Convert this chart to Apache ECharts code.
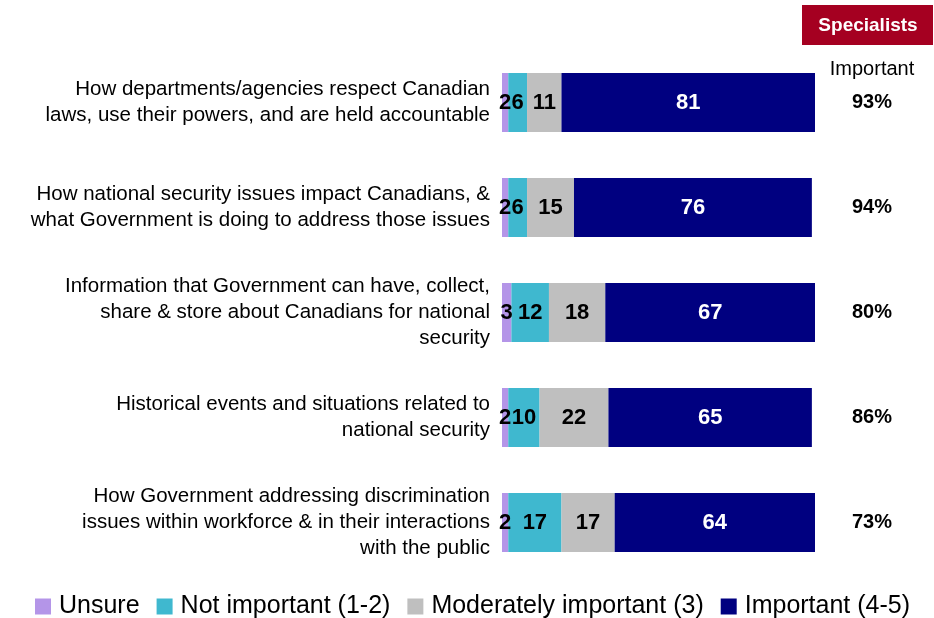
<!DOCTYPE html>
<html>
<head>
<meta charset="utf-8">
<script src="https://cdn.jsdelivr.net/npm/echarts@6/dist/echarts.min.js"></script>
<style>
  html, body { margin: 0; padding: 0; background: #fff; }
  #chart { width: 934px; height: 618px; }
</style>
</head>
<body>
<div id="chart"></div>
<script>
// Topics, top to bottom
const categories = [
  'How departments/agencies respect Canadian\nlaws, use their powers, and are held accountable',
  'How national security issues impact Canadians, &\nwhat Government is doing to address those issues',
  'Information that Government can have, collect,\nshare & store about Canadians for national\nsecurity',
  'Historical events and situations related to\nnational security',
  'How Government addressing discrimination\nissues within workforce & in their interactions\nwith the public'
];
const unsure = [2, 2, 3, 2, 2];
const notImportant = [6, 6, 12, 10, 17];
const moderatelyImportant = [11, 15, 18, 22, 17];
const important = [81, 76, 67, 65, 64];
const importantTotal = ['93%', '94%', '80%', '86%', '73%'];
const seriesNames = ['Unsure', 'Not important (1-2)', 'Moderately important (3)', 'Important (4-5)'];

const FONT = 'Liberation Sans, Arial, sans-serif';

function seg(name, data, color, labelColor) {
  return {
    name: name,
    type: 'bar',
    stack: 'total',
    data: data,
    barWidth: 59,
    itemStyle: { color: color },
    label: {
      show: true,
      position: 'inside',
      color: labelColor,
      fontFamily: FONT,
      fontWeight: 'bold',
      fontSize: 22
    },
    emphasis: { disabled: true }
  };
}

const chart = echarts.init(document.getElementById('chart'));
chart.setOption({
  animation: false,
  backgroundColor: '#fff',
  grid: { left: 502, right: 119, top: 50, bottom: 43 },
  xAxis: { type: 'value', min: 0, max: 100, show: false },
  yAxis: [
    {
      type: 'category',
      data: categories,
      inverse: true,
      axisLine: { show: false },
      axisTick: { show: false },
      axisLabel: {
        margin: 12,
        align: 'right',
        color: '#000',
        fontFamily: FONT,
        fontSize: 20.5,
        lineHeight: 26
      }
    },
    {
      type: 'category',
      data: importantTotal,
      inverse: true,
      position: 'right',
      axisLine: { show: false },
      axisTick: { show: false },
      axisLabel: {
        margin: 57,
        align: 'center',
        color: '#000',
        fontFamily: FONT,
        fontWeight: 'bold',
        fontSize: 20
      }
    }
  ],
  legend: {
    top: 589,
    left: 30,
    itemWidth: 16,
    itemHeight: 16,
    itemGap: 17,
    icon: 'rect',
    textStyle: { fontFamily: FONT, fontSize: 25, color: '#000', padding: [0, 0, 0, 3] },
    data: seriesNames
  },
  graphic: [
    {
      type: 'rect',
      shape: { x: 802, y: 5, width: 131, height: 40 },
      style: { fill: '#A50021' }
    },
    {
      type: 'text',
      x: 868, y: 26,
      style: {
        text: 'Specialists',
        fill: '#fff',
        font: 'bold 19px ' + FONT,
        align: 'center',
        verticalAlign: 'middle'
      }
    },
    {
      type: 'text',
      x: 872, y: 69,
      style: {
        text: 'Important',
        fill: '#000',
        font: '20px ' + FONT,
        align: 'center',
        verticalAlign: 'middle'
      }
    }
  ],
  series: [
    seg(seriesNames[0], unsure, '#B495E8', '#000'),
    seg(seriesNames[1], notImportant, '#3FB8CF', '#000'),
    seg(seriesNames[2], moderatelyImportant, '#BFBFBF', '#000'),
    seg(seriesNames[3], important, '#000080', '#fff')
  ]
});
</script>
</body>
</html>
